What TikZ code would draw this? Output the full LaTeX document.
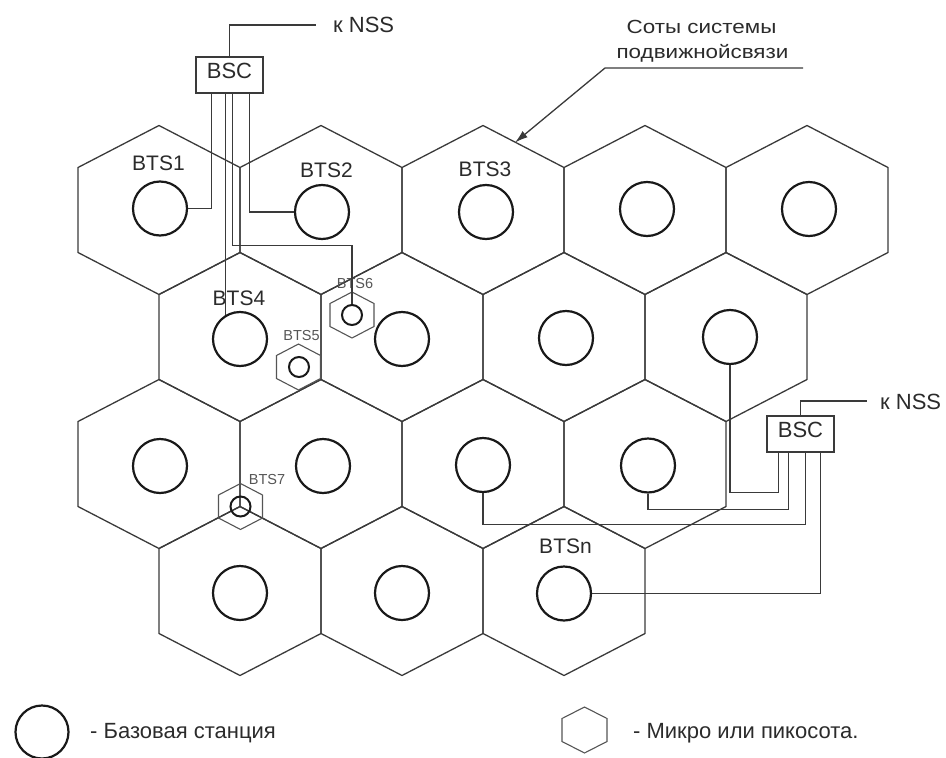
\documentclass[tikz,border=0pt]{standalone}
\usepackage{fontspec}
\setmainfont{Liberation Sans}
\usetikzlibrary{calc,arrows.meta}
\definecolor{ln}{HTML}{3A3A3A}
\definecolor{tx}{HTML}{2B2B2B}
\definecolor{sm}{HTML}{555555}
\begin{document}
\begin{tikzpicture}[x=1pt,y=-1pt,
  cell/.style={draw=ln,line width=1.3pt,line join=miter},
  microcell/.style={draw=sm,line width=1.1pt,line join=miter},
  bs/.style={circle,draw=black!90,line width=2.2pt,minimum size=54pt,inner sep=0pt},
  mbs/.style={circle,draw=black!90,line width=2pt,minimum size=20pt,inner sep=0pt},
  wire/.style={draw=ln,line width=1.3pt},
  bscbox/.style={draw=ln,line width=1.3pt,minimum width=67pt,minimum height=36pt,inner sep=0pt,
    font=\fontsize{22}{26}\selectfont,text=tx,text depth=8pt},
  lbl/.style={anchor=base,inner sep=0pt,text=tx,font=\fontsize{21}{25}\selectfont},
  slbl/.style={anchor=base,inner sep=0pt,text=sm,font=\fontsize{14.5}{17}\selectfont},
  big/.style={inner sep=0pt,text=tx,font=\fontsize{22}{26}\selectfont}
]
\path[use as bounding box] (0,0) rectangle (946,758);

% ---- macro cells
\foreach \cx/\cy in {159/210,321/210,483/210,645/210,807/210,
                     240/337,402/337,564/337,726/337,
                     159/464,321/464,483/464,645/464,
                     240/591,402/591,564/591}
  \draw[cell] (\cx,\cy) ++(0,-84.5) -- ++(81,42) -- ++(0,85) -- ++(-81,42)
     -- ++(-81,-42) -- ++(0,-85) -- cycle;

% ---- base stations
\node[bs] (c11) at (160,208.5) {};
\node[bs] (c12) at (322,212) {};
\node[bs] (c13) at (486,212) {};
\node[bs] (c14) at (647,209) {};
\node[bs] (c15) at (809,209) {};
\node[bs] (c21) at (240,339) {};
\node[bs] (c22) at (402,339) {};
\node[bs] (c23) at (566,338) {};
\node[bs] (c24) at (730,337) {};
\node[bs] (c31) at (160,466) {};
\node[bs] (c32) at (323,466) {};
\node[bs] (c33) at (483,465) {};
\node[bs] (c34) at (648,465.5) {};
\node[bs] (c41) at (240,593) {};
\node[bs] (c42) at (402,593) {};
\node[bs] (c43) at (564,593.5) {};

% ---- micro / pico cells
\foreach \cx/\cy in {352/315,298.5/367,240.5/506.5}
  \draw[microcell] (\cx,\cy) ++(0,-23) -- ++(22,11.5) -- ++(0,23) -- ++(-22,11.5)
     -- ++(-22,-11.5) -- ++(0,-23) -- cycle;
\node[mbs] (m6) at (352,315) {};
\node[mbs] (m5) at (299,367) {};
\node[mbs] (m7) at (240.5,506.5) {};

% ---- labels
\node[lbl] at (158.5,170) {BTS1};
\node[lbl] at (326.5,177) {BTS2};
\node[lbl] at (485,176) {BTS3};
\node[lbl] at (239,305) {BTS4};
\node[lbl] at (565.5,553) {BTSn};
\node[slbl] at (355,288) {BTS6};
\node[slbl] at (301.5,340) {BTS5};
\node[slbl] at (267,484) {BTS7};

% ---- BSC top-left
\node[bscbox] (bsc1) at (229.5,75) {BSC};
\node[big,anchor=base west] (nss1) at (333,32) {к NSS};
\coordinate (nss1e) at (316,25);
\draw[wire] (bsc1.north) |- (nss1e);
\coordinate (q1) at ($(bsc1.south west)+(16,0)$);
\coordinate (q3) at ($(bsc1.south west)+(37,0)$);
\coordinate (q4) at ($(bsc1.south west)+(54,0)$);
\draw[wire] (q1) |- (c11.east);
\draw[wire] (c21.121) -- (c21.121 |- bsc1.south);
\draw[wire] (q3) -- ++(0,152) -| (m6.north);
\draw[wire] (q4) |- (c12.west);

% ---- BSC right
\node[bscbox] (bsc2) at (800.5,434) {BSC};
\node[big,anchor=base west] (nss2) at (880,409) {к NSS};
\coordinate (nss2e) at (867,401);
\draw[wire] (bsc2.north) |- (nss2e);
\coordinate (r1) at ($(bsc2.south west)+(12,0)$);
\coordinate (r2) at ($(bsc2.south west)+(22,0)$);
\coordinate (r3) at ($(bsc2.south west)+(39,0)$);
\coordinate (r4) at ($(bsc2.south west)+(54,0)$);
\draw[wire] (r1) -- ++(0,40) -| (c24.south);
\draw[wire] (r2) -- ++(0,57) -| (c34.south);
\draw[wire] (r3) -- ++(0,72) -| (c33.south);
\draw[wire] (r4) |- (c43.east);

% ---- annotation
\node[inner sep=0pt,text=tx,anchor=base] (ann1) at (701.5,33)
  {\scalebox{1.18}[1]{\fontsize{19}{22}\selectfont Соты системы}};
\node[inner sep=0pt,text=tx,anchor=base] (ann2) at (702.5,58)
  {\scalebox{1.18}[1]{\fontsize{19}{22}\selectfont подвижнойсвязи}};
\coordinate (aR) at (803,68);
\coordinate (aL) at (605,68);
\coordinate (aT) at (515,142.5);
\draw[wire,-{Latex[length=13pt,width=8pt]}] (aR) -- (aL) -- (aT);

% ---- legend
\node[circle,draw=black!90,line width=2.2pt,minimum size=53pt,inner sep=0pt] (lgc) at (42,732) {};
\node[big,anchor=base west] (lgct) at (90,738) {- Базовая станция};
\draw[microcell] (584.5,730) ++(0,-23) -- ++(22.5,11.5) -- ++(0,23) -- ++(-22.5,11.5)
     -- ++(-22.5,-11.5) -- ++(0,-23) -- cycle;
\node[big,anchor=base west] (lght) at (633,738) {- Микро или пикосота.};
\end{tikzpicture}
\end{document}
